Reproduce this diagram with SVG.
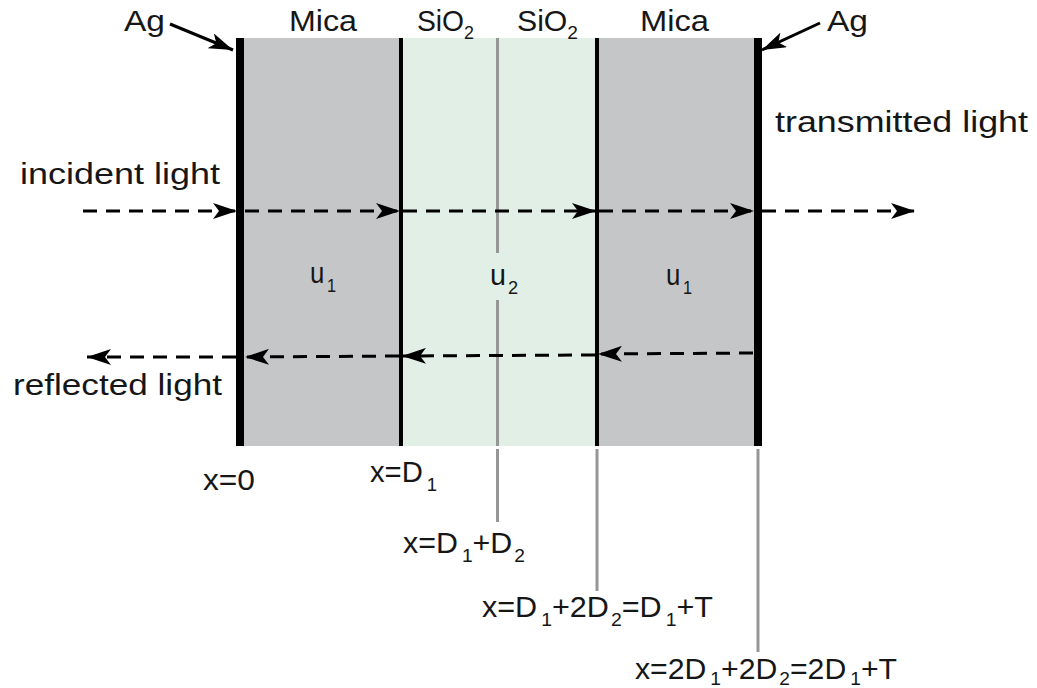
<svg xmlns="http://www.w3.org/2000/svg" width="1037" height="688" viewBox="0 0 1037 688">
<defs>
<style>
text{font-family:"Liberation Sans",Arial,sans-serif;font-size:30px;fill:#161616}
.sub{font-size:19px}
.mica{fill:#c5c6c8}
.sio{fill:#e1efe6}
.ag{fill:#000}
.bd{stroke:#000;stroke-width:4}
.gl{stroke:#959796;stroke-width:3}
.ray{stroke:#000;stroke-width:3;stroke-dasharray:14 9;fill:none;marker-end:url(#ah)}
.lbl{stroke:#000;stroke-width:3;fill:none;marker-end:url(#ah)}
</style>
<marker id="ah" viewBox="0 0 24 16" refX="24" refY="8" markerWidth="24" markerHeight="16" markerUnits="userSpaceOnUse" orient="auto">
<path d="M0,0 L24,8 L0,16 L6,8 Z" fill="#000"/>
</marker>
</defs>
<rect width="1037" height="688" fill="#fff"/>

<g id="layer-mica-left">
<rect class="mica" x="244" y="38" width="157" height="408"/>
<text x="289" y="31" textLength="68" lengthAdjust="spacingAndGlyphs">Mica</text>
<text x="310" y="283" textLength="26" lengthAdjust="spacingAndGlyphs">u<tspan class="sub" dx="3" dy="9">1</tspan></text>
</g>
<g id="layer-sio2">
<rect class="sio" x="401" y="38" width="196" height="408"/>
<text x="417" y="31" textLength="57" lengthAdjust="spacingAndGlyphs">SiO<tspan class="sub" dy="8">2</tspan></text>
<text x="517" y="31" textLength="61" lengthAdjust="spacingAndGlyphs">SiO<tspan class="sub" dy="8">2</tspan></text>
<line class="gl" x1="497.5" y1="38" x2="497.5" y2="253"/>
<line class="gl" x1="497.5" y1="300" x2="497.5" y2="446"/>
<text x="490" y="285" textLength="28" lengthAdjust="spacingAndGlyphs">u<tspan class="sub" dx="2" dy="9">2</tspan></text>
</g>
<g id="layer-mica-right">
<rect class="mica" x="597" y="38" width="158" height="408"/>
<text x="640" y="31" textLength="69" lengthAdjust="spacingAndGlyphs">Mica</text>
<text x="666" y="285" textLength="26" lengthAdjust="spacingAndGlyphs">u<tspan class="sub" dx="3" dy="9">1</tspan></text>
</g>
<g id="boundaries">
<line class="bd" x1="401" y1="38" x2="401" y2="446"/>
<line class="bd" x1="597" y1="38" x2="597" y2="446"/>
</g>
<g id="ag-left">
<rect class="ag" x="236" y="38" width="8" height="408"/>
<text x="124" y="31" textLength="41" lengthAdjust="spacingAndGlyphs">Ag</text>
</g>
<g id="ag-right">
<rect class="ag" x="754" y="38" width="8" height="408"/>
<text x="827" y="31" textLength="41" lengthAdjust="spacingAndGlyphs">Ag</text>
</g>

<g id="connectors">
<line class="lbl" x1="170" y1="24" x2="233" y2="50"/>
<line class="lbl" x1="820" y1="23" x2="762" y2="50"/>
<line class="ray" x1="83" y1="211" x2="237" y2="211"/>
<line class="ray" x1="245" y1="211" x2="400" y2="211"/>
<line class="ray" x1="403" y1="211" x2="596" y2="211"/>
<line class="ray" x1="599" y1="211" x2="754" y2="211"/>
<line class="ray" x1="762" y1="211" x2="915" y2="211"/>
<line class="ray" x1="753" y1="353" x2="598" y2="354"/>
<line class="ray" x1="595" y1="355" x2="402" y2="356"/>
<line class="ray" x1="399" y1="356" x2="245" y2="357"/>
<line class="ray" x1="236" y1="357" x2="87" y2="357"/>
<line class="gl" x1="497.5" y1="449" x2="497.5" y2="522"/>
<line class="gl" x1="597" y1="449" x2="597" y2="591"/>
<line class="gl" x1="758" y1="449" x2="758" y2="652"/>
</g>

<g id="labels">
<text x="775" y="132" textLength="253" lengthAdjust="spacingAndGlyphs">transmitted light</text>
<text x="20" y="184" textLength="200" lengthAdjust="spacingAndGlyphs">incident light</text>
<text x="13" y="395" textLength="209" lengthAdjust="spacingAndGlyphs">reflected light</text>
<text x="203" y="490" textLength="52" lengthAdjust="spacingAndGlyphs">x=0</text>
<text x="370" y="482" textLength="67" lengthAdjust="spacingAndGlyphs">x=D<tspan class="sub" dx="4" dy="9">1</tspan></text>
<text x="403" y="553" textLength="122" lengthAdjust="spacingAndGlyphs">x=D<tspan class="sub" dx="4" dy="9">1</tspan><tspan dy="-9">+D</tspan><tspan class="sub" dx="2" dy="9">2</tspan></text>
<text x="482" y="617" textLength="231" lengthAdjust="spacingAndGlyphs">x=D<tspan class="sub" dx="4" dy="9">1</tspan><tspan dy="-9">+2D</tspan><tspan class="sub" dx="2" dy="9">2</tspan><tspan dy="-9">=D</tspan><tspan class="sub" dx="4" dy="9">1</tspan><tspan dy="-9">+T</tspan></text>
<text x="635" y="679" textLength="262" lengthAdjust="spacingAndGlyphs">x=2D<tspan class="sub" dx="4" dy="6">1</tspan><tspan dy="-6">+2D</tspan><tspan class="sub" dx="2" dy="6">2</tspan><tspan dy="-6">=2D</tspan><tspan class="sub" dx="4" dy="6">1</tspan><tspan dy="-6">+T</tspan></text>
</g>
</svg>
